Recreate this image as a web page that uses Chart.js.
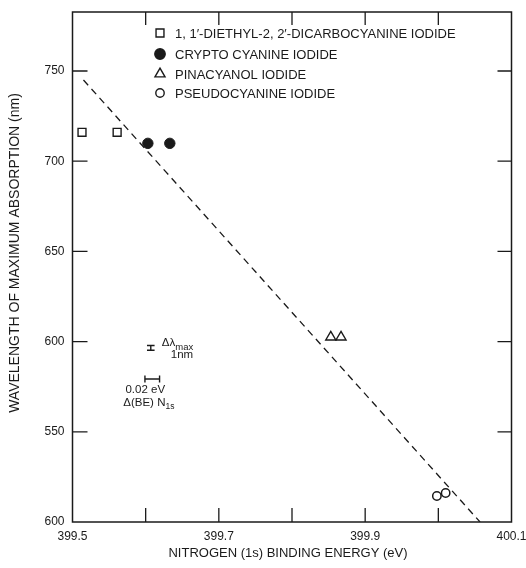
<!DOCTYPE html>
<html>
<head>
<meta charset="utf-8">
<style>
  html, body { margin: 0; padding: 0; background: #fff; }
  #wrap { width: 526px; height: 568px; }
</style>
<script src="https://cdn.jsdelivr.net/npm/chart.js@4.4.1/dist/chart.umd.min.js"></script>
</head>
<body>
<div id="wrap"><canvas id="dyeChart" width="526" height="568"></canvas></div>
<script>
// axis ticks (the bottom label reads "600" in the original figure)
const xTickValues = [399.5, 399.6, 399.7, 399.8, 399.9, 400.0, 400.1];
const xTickLabels = ['399.5', '', '399.7', '', '399.9', '', '400.1'];
const yTickValues = [500, 550, 600, 650, 700, 750];
const yTickLabels = ['600', '550', '600', '650', '700', '750'];

const seriesNames = [
    '1, 1\u2032-DIETHYL-2, 2\u2032-DICARBOCYANINE IODIDE',
    'CRYPTO CYANINE IODIDE',
    'PINACYANOL IODIDE',
    'PSEUDOCYANINE IODIDE'
];

// binding energy (eV) / wavelength (nm)
const dicarboX = [399.513, 399.561];
const dicarboY = [716.0, 716.0];
const cryptoX = [399.603, 399.633];
const cryptoY = [709.9, 709.9];
const pinaX = [399.853, 399.867];
const pinaY = [602.5, 602.5];
const pseudoX = [399.998, 400.010];
const pseudoY = [514.4, 516.1];

// dashed fit line
const fitX = [399.515, 400.057];
const fitY = [745, 500];

// error bar keys
const wlBarX = [399.607, 399.607];
const wlBarY = [595.2, 597.8];
const beBarX = [399.599, 399.619];
const beBarY = [579.3, 579.3];

const FONT = '"Liberation Sans", Arial, Helvetica, sans-serif';
const INK = '#1a1a1a';

const pts = (xs, ys) => xs.map((x, i) => ({ x: x, y: ys[i] }));

const legendStyles = [
    { pointStyle: 'rect', radius: 5.6, fill: '#fff' },
    { pointStyle: 'circle', radius: 5.2, fill: INK },
    { pointStyle: 'triangle', radius: 5.8, fill: '#fff' },
    { pointStyle: 'circle', radius: 4.2, fill: '#fff' }
];

const figurePlugin = {
    id: 'figure',
    afterDraw(chart) {
        const ctx = chart.ctx;
        const a = chart.chartArea;
        const xs = chart.scales.x;
        const ys = chart.scales.y;
        ctx.save();
        ctx.strokeStyle = INK;
        ctx.lineWidth = 1.5;
        ctx.strokeRect(a.left, a.top, a.right - a.left, a.bottom - a.top);

        // inward tick marks on all four sides
        ctx.lineWidth = 1.3;
        ctx.beginPath();
        xTickValues.forEach(v => {
            const px = xs.getPixelForValue(v);
            if (px <= a.left + 1 || px >= a.right - 1) return;
            ctx.moveTo(px, a.bottom); ctx.lineTo(px, a.bottom - 14);
            ctx.moveTo(px, a.top); ctx.lineTo(px, a.top + 13);
        });
        yTickValues.forEach(v => {
            const py = ys.getPixelForValue(v);
            if (py >= a.bottom - 1 || py <= a.top + 1) return;
            ctx.moveTo(a.left, py); ctx.lineTo(a.left + 15, py);
            ctx.moveTo(a.right, py); ctx.lineTo(a.right - 14, py);
        });
        ctx.stroke();

        // legend
        ctx.font = '13px ' + FONT;
        ctx.textBaseline = 'middle';
        ctx.textAlign = 'left';
        const rowY = [33, 54, 74, 93];
        seriesNames.forEach((name, i) => {
            const st = legendStyles[i];
            ctx.fillStyle = st.fill;
            ctx.strokeStyle = INK;
            ctx.lineWidth = 1.4;
            Chart.helpers.drawPoint(ctx, { pointStyle: st.pointStyle, radius: st.radius, borderWidth: 1.4, rotation: 0 }, 160, rowY[i]);
            ctx.fillStyle = INK;
            ctx.fillText(name, 175, rowY[i] + 1);
        });

        // error bar key texts
        const vx = xs.getPixelForValue(wlBarX[0]);
        const vy = ys.getPixelForValue((wlBarY[0] + wlBarY[1]) / 2);
        ctx.textBaseline = 'alphabetic';
        ctx.font = '11.5px ' + FONT;
        ctx.fillText('\u0394\u03bb', vx + 11, vy - 2);
        const w1 = ctx.measureText('\u0394\u03bb').width;
        ctx.font = '9.5px ' + FONT;
        ctx.fillText('max', vx + 11 + w1, vy + 2);
        ctx.font = '11.5px ' + FONT;
        ctx.fillText('1nm', vx + 20, vy + 10);

        const hx = xs.getPixelForValue((beBarX[0] + beBarX[1]) / 2);
        const hy = ys.getPixelForValue(beBarY[0]);
        ctx.textAlign = 'center';
        ctx.fillText('0.02 eV', hx - 7, hy + 14);
        ctx.textAlign = 'left';
        const t2 = '\u0394(BE) N';
        ctx.fillText(t2, hx - 29, hy + 27);
        const w2 = ctx.measureText(t2).width;
        ctx.font = '8.5px ' + FONT;
        ctx.fillText('1s', hx - 29 + w2, hy + 30);

        // axis titles
        ctx.fillStyle = INK;
        ctx.font = '13px ' + FONT;
        ctx.textAlign = 'center';
        ctx.textBaseline = 'middle';
        ctx.fillText('NITROGEN (1s) BINDING ENERGY (eV)', (a.left + a.right) / 2 - 4, 553);
        ctx.translate(15.5, 253);
        ctx.rotate(-Math.PI / 2);
        ctx.font = '14px ' + FONT;
        ctx.fillText('WAVELENGTH OF MAXIMUM ABSORPTION (nm)', 0, 0);
        ctx.restore();
    }
};

const pickLabel = (values, labels, v) => {
    const i = values.findIndex(t => Math.abs(t - v) < 1e-6);
    return i < 0 ? '' : labels[i];
};

new Chart(document.getElementById('dyeChart'), {
    type: 'scatter',
    data: {
        datasets: [
            {
                label: seriesNames[0], data: pts(dicarboX, dicarboY),
                pointStyle: 'rect', pointRadius: 5.6, pointBorderWidth: 1.4,
                borderColor: INK, backgroundColor: '#fff'
            },
            {
                label: seriesNames[1], data: pts(cryptoX, cryptoY),
                pointStyle: 'circle', pointRadius: 5.2, pointBorderWidth: 1,
                borderColor: INK, backgroundColor: INK
            },
            {
                label: seriesNames[2], data: pts(pinaX, pinaY),
                pointStyle: 'triangle', pointRadius: 5.8, pointBorderWidth: 1.4,
                borderColor: INK, backgroundColor: '#fff'
            },
            {
                label: seriesNames[3], data: pts(pseudoX, pseudoY),
                pointStyle: 'circle', pointRadius: 4.2, pointBorderWidth: 1.5,
                borderColor: INK, backgroundColor: 'rgba(0,0,0,0)'
            },
            {
                label: 'fit', data: pts(fitX, fitY), showLine: true,
                borderColor: INK, borderWidth: 1.3, borderDash: [7, 5],
                pointRadius: 0
            },
            {
                label: 'dlambda', data: pts(wlBarX, wlBarY), showLine: true,
                borderColor: INK, borderWidth: 1.4,
                pointStyle: 'line', pointRadius: 3.8, pointBorderWidth: 1.4, pointRotation: 0
            },
            {
                label: 'dBE', data: pts(beBarX, beBarY), showLine: true,
                borderColor: INK, borderWidth: 1.4,
                pointStyle: 'line', pointRadius: 3.5, pointBorderWidth: 1.4, pointRotation: 90
            }
        ]
    },
    options: {
        responsive: false,
        animation: false,
        events: [],
        layout: { padding: { top: 12, right: 14.5, left: 0, bottom: 0 } },
        plugins: {
            legend: { display: false },
            tooltip: { enabled: false }
        },
        scales: {
            x: {
                type: 'linear', min: 399.5, max: 400.1,
                grid: { display: false, drawTicks: false },
                border: { display: false },
                afterFit: s => { s.height = 46; s.paddingLeft = 0; s.paddingRight = 0; },
                ticks: {
                    stepSize: 0.1, padding: 7, autoSkip: false, maxRotation: 0,
                    color: INK, font: { family: FONT, size: 12 },
                    callback: v => pickLabel(xTickValues, xTickLabels, v)
                }
            },
            y: {
                type: 'linear', min: 500, max: 782.7,
                grid: { display: false, drawTicks: false },
                border: { display: false },
                afterFit: s => { s.width = 72.5; s.paddingTop = 0; s.paddingBottom = 0; },
                ticks: {
                    stepSize: 50, padding: 8, autoSkip: false,
                    color: INK, font: { family: FONT, size: 12 },
                    callback: v => pickLabel(yTickValues, yTickLabels, v)
                }
            }
        }
    },
    plugins: [figurePlugin]
});
</script>
</body>
</html>
